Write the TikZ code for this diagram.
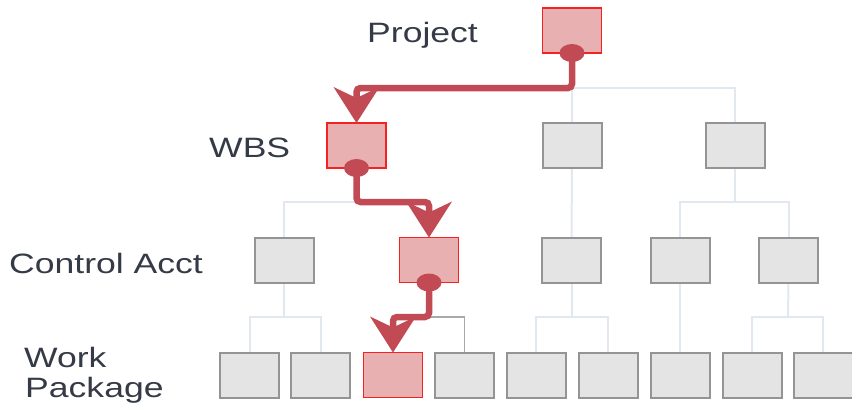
\documentclass[tikz,border=0pt]{standalone}
\usepackage{fontspec}
\setmainfont{Liberation Sans}
\usetikzlibrary{calc}
\definecolor{boxfill}{HTML}{E4E4E4}
\definecolor{boxline}{HTML}{949494}
\definecolor{hotfill}{HTML}{E8B0B0}
\definecolor{hotline}{HTML}{F52222}
\definecolor{linkc}{HTML}{E2E8F0}
\definecolor{pathc}{HTML}{C24A54}
\definecolor{labelc}{HTML}{353A47}
\newcommand{\lbl}[1]{\scalebox{1.27}[1]{#1}}
\begin{document}
\begin{tikzpicture}[x=1bp,y=-1bp,
  wbsbox/.style={draw=boxline, fill=boxfill, line width=2bp, minimum width=59bp,
    minimum height=45bp, inner sep=0pt, outer sep=0pt},
  hotbox/.style={wbsbox, draw=hotline, fill=hotfill, line width=1.6bp},
  link/.style={draw=linkc, line width=2bp},
  darklink/.style={draw=boxline!80, line width=1.8bp},
  trail/.style={draw=pathc, line width=6.5bp, rounded corners=4bp},
  dot/.style={fill=pathc},
  level/.style={font=\fontsize{28bp}{30bp}\selectfont, text=labelc, inner sep=0pt}]
\useasboundingbox (0,0) rectangle (852,404);

% level labels
\node[level, anchor=base west] (lproj) at (367,42) {\lbl{Project}};
\node[level, anchor=base west] (lwbs) at (209,157) {\lbl{WBS}};
\node[level, anchor=base west] (lca) at (9,273) {\lbl{Control Acct}};
\node[level, anchor=base west] (lwork) at (24,367) {\lbl{Work}};
\node[level, anchor=base west] (lpkg) at (25,397) {\lbl{Package}};

% connector coordinates
\coordinate (j0) at (572,88);
\coordinate (j1) at (356.5,202);
\coordinate (j3) at (735,202);
\coordinate (k1) at (284,317);
\coordinate (k2) at (429,317);
\coordinate (k3) at (571.5,317);
\coordinate (k5) at (788,317);

% boxes
\node[hotbox] (proj) at (572,30.5) {};
\node[hotbox] (wbs1) at (356.5,145.5) {};
\node[wbsbox] (wbs2) at (572,145.5) {};
\node[wbsbox] (wbs3) at (735,145.5) {};
\node[wbsbox] (ca1) at (284,260) {};
\node[hotbox] (ca2) at (429,260) {};
\node[wbsbox] (ca3) at (571.5,260) {};
\node[wbsbox] (ca4) at (680,260) {};
\node[wbsbox] (ca5) at (788.5,260) {};
\node[wbsbox] (wp1) at (249.5,375) {};
\node[wbsbox] (wp2) at (320.5,375) {};
\node[hotbox] (wp3) at (393,375) {};
\node[wbsbox] (wp4) at (464.5,375) {};
\node[wbsbox] (wp5) at (536,375) {};
\node[wbsbox] (wp6) at (608,375) {};
\node[wbsbox] (wp7) at (680,375) {};
\node[wbsbox] (wp8) at (752,375) {};
\node[wbsbox] (wp9) at (823,375) {};

% tree connectors
\path[link] (proj.south) -- (j0) -| (wbs1.north);
\path[link] (j0) -| (wbs3.north);
\path[link] (proj.south) -- (wbs2.north);
\path[link] (wbs1.south) -- (j1) -| (ca1.north);
\path[link] (j1) -| (ca2.north);
\path[link] (wbs2.south) -- (ca3.north);
\path[link] (wbs3.south) -- (j3) -| (ca4.north);
\path[link] (j3) -| (ca5.north);
\path[link] (ca1.south) -- (k1) -| (wp1.north);
\path[link] (k1) -| (wp2.north);
\path[link] (ca2.south) -- (k2) -| (wp3.north);
\path[darklink] (k2) -| (wp4.north);
\path[link] (ca3.south) -- (k3) -| (wp5.north);
\path[link] (k3) -| (wp6.north);
\path[link] (ca4.south) -- (wp7.north);
\path[link] (ca5.south) -- (k5) -| (wp8.north);
\path[link] (k5) -| (wp9.north);

% redraw boxes above the connectors
\foreach \n in {wbs2,wbs3,ca1,ca3,ca4,ca5,wp1,wp2,wp4,wp5,wp6,wp7,wp8,wp9}
  \draw[draw=boxline, fill=boxfill, line width=2bp] (\n.south west) rectangle (\n.north east);
\foreach \n in {proj,wbs1,ca2,wp3}
  \draw[draw=hotline, fill=hotfill, line width=1.6bp] (\n.south west) rectangle (\n.north east);

% highlighted drill-down path
\draw[trail] (proj.south) -- (j0) -| ($(wbs1.north)+(0,-20)$);
\draw[trail] (wbs1.south) -- (j1) -| ($(ca2.north)+(0,-20)$);
\draw[trail] (ca2.south) -- (k2) -| ($(wp3.north)+(0,-20)$);
\foreach \n in {wbs1,ca2,wp3}
  \fill[dot] (\n.north) -- ++(-23,-36) -- ++(23,11) -- ++(23,-11) -- cycle;
\fill[dot] (proj.south) ellipse [x radius=12.5, y radius=9];
\fill[dot] (wbs1.south) ellipse [x radius=12.5, y radius=9];
\fill[dot] (ca2.south) ellipse [x radius=12.5, y radius=9];
\end{tikzpicture}
\end{document}
